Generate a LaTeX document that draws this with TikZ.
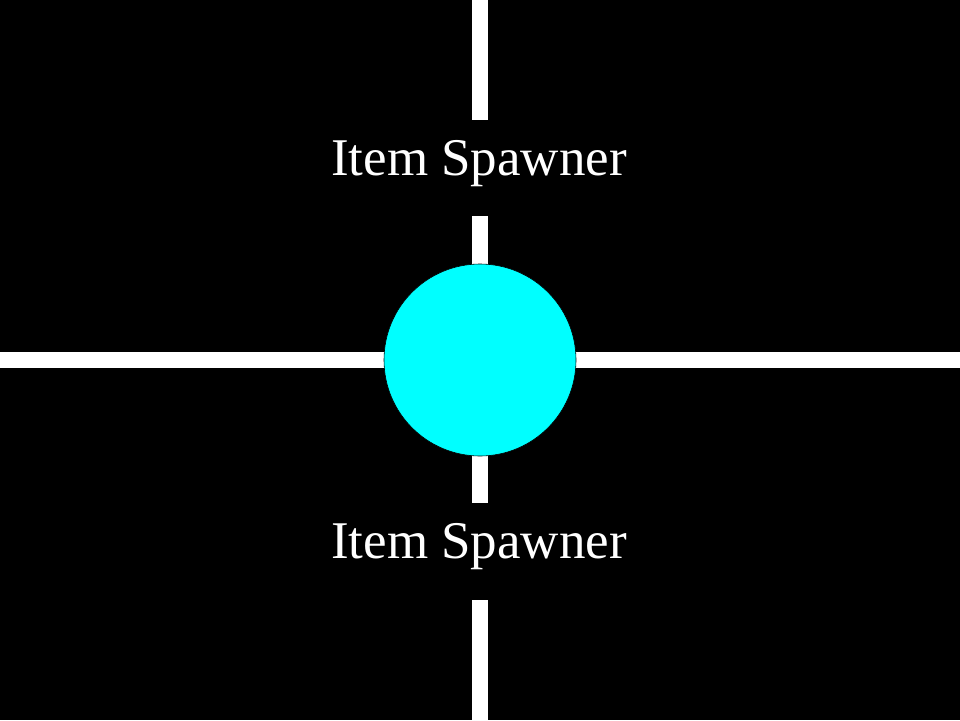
\documentclass[tikz,border=0pt]{standalone}
\usepackage{fontspec}
\setmainfont{Liberation Serif}
\usetikzlibrary{calc}
\definecolor{hub}{HTML}{00FFFF}

\begin{document}
\begin{tikzpicture}[x=1pt,y=-1pt,
  road/.style={white,line width=16pt},
  label/.style={text=white,font=\fontsize{53}{63}\selectfont,anchor=base,inner sep=0pt}]
  % background
  \fill[black] (0,0) rectangle (960,720);
  \useasboundingbox (0,0) rectangle (960,720);
  % road ends
  \coordinate (nEnd) at (480,0);
  \coordinate (nGap) at (480,120);
  \coordinate (nIn) at (480,216);
  \coordinate (sOut) at (480,503);
  \coordinate (sGap) at (480,600);
  \coordinate (sEnd) at (480,720);
  \coordinate (wEnd) at (0,360);
  \coordinate (eEnd) at (960,360);
  % spawner labels
  \node[label] (spawnTop) at (479,175) {Item Spawner};
  \node[label] (spawnBot) at (479,558) {Item Spawner};
  % roads
  \draw[road] (nEnd) -- (nGap);
  \draw[road] (nIn) -- (480,360);
  \draw[road] (480,360) -- (sOut);
  \draw[road] (sGap) -- (sEnd);
  \draw[road] (wEnd) -- (eEnd);
  % hub
  \node[circle,draw=black,line width=0.6pt,fill=hub,minimum size=192pt,inner sep=0pt] (hub) at (480,360) {};
\end{tikzpicture}
\end{document}
